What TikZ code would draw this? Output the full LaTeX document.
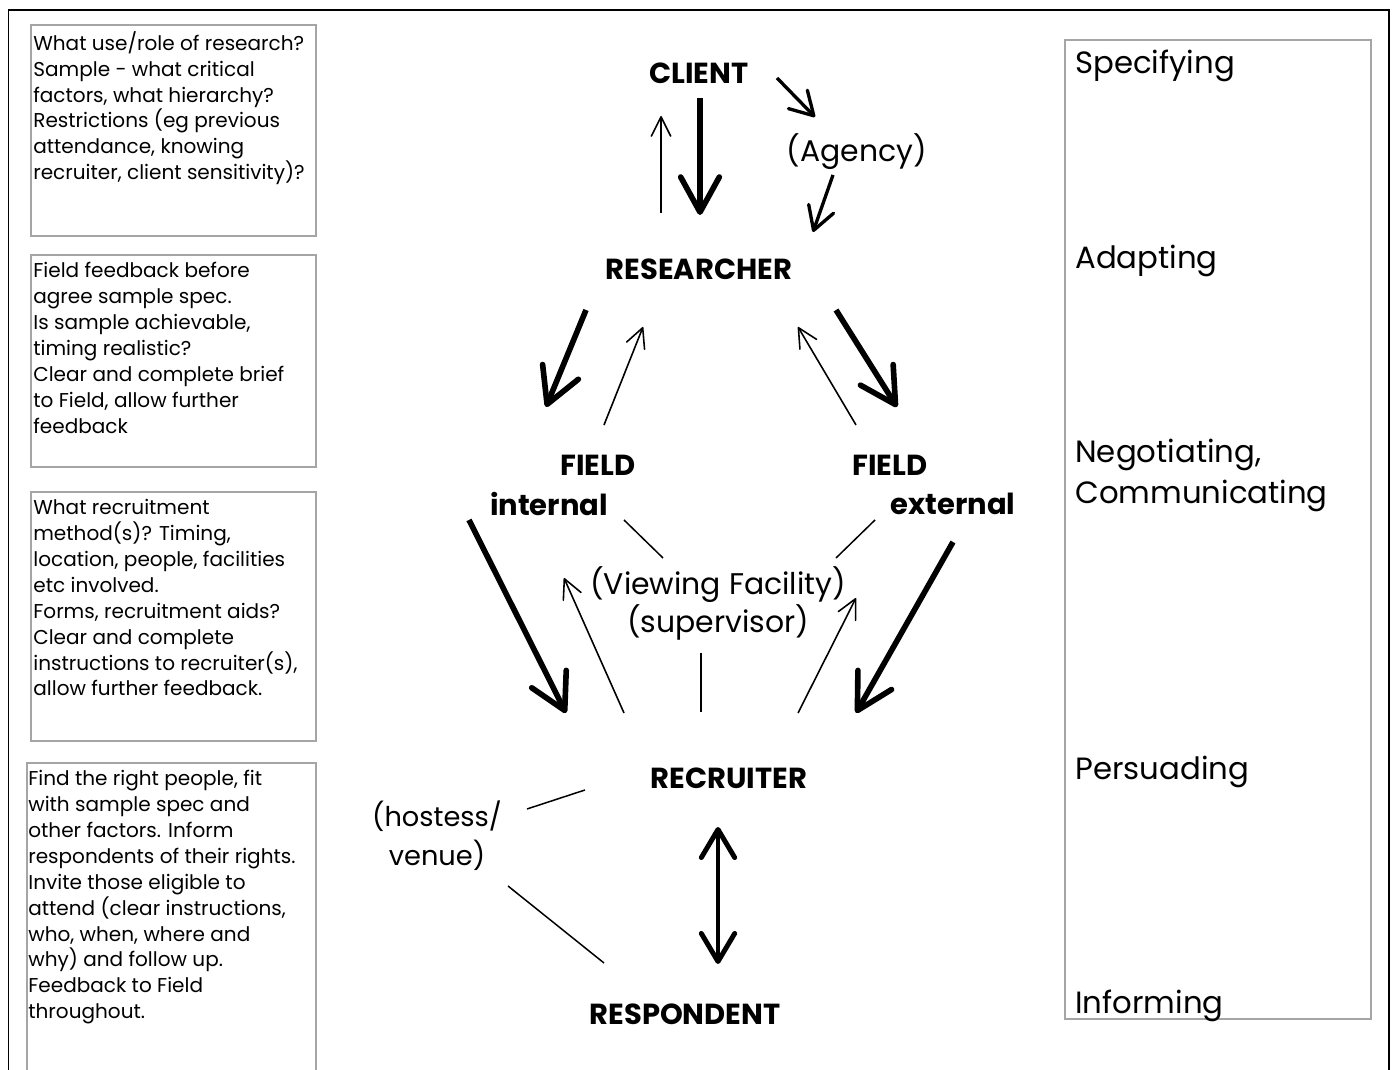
\documentclass[tikz,border=0pt]{standalone}
\usepackage{fontspec}
\setmainfont{Poppins}
\usetikzlibrary{arrows.meta}
\definecolor{CINK}{RGB}{0,0,0}
\definecolor{CBOX}{RGB}{165,165,165}

\begin{document}
\begin{tikzpicture}[
  actor/.style={font=\fontsize{16.5}{19}\selectfont\bfseries,inner sep=0pt},
  aside/.style={font=\fontsize{17}{21.6}\selectfont,inner sep=0pt,align=center},
  role/.style={font=\fontsize{17.5}{22.7}\selectfont,inner sep=0pt,anchor=base west,align=left},
  notes/.style={font=\fontsize{11.4}{14.74}\selectfont,inner sep=0pt,anchor=north west,align=left},
  bigarr/.style={CINK,line width=3.2pt,-{Straight Barb[length=20pt,width=22pt,round]}},
  midarr/.style={CINK,line width=1.9pt,-{Straight Barb[length=13pt,width=15pt,round]}},
  thinarr/.style={CINK,line width=0.9pt,-{Straight Barb[length=11pt,width=11pt,round]}},
  duoarr/.style={CINK,line width=2.8pt,{Straight Barb[length=16pt,width=19pt,round]}-{Straight Barb[length=16pt,width=19pt,round]}},
  link/.style={CINK,line width=0.85pt}
]
  \useasboundingbox (0.0000cm,0.0000cm) rectangle (27.8600cm,21.4000cm);
  % outer frame, open at the bottom
  \draw[CINK,line width=1.1pt] (0.1700cm,0.0000cm) -- (0.1700cm,21.2000cm) -- (27.7800cm,21.2000cm) -- (27.7800cm,0.0000cm);
  % note boxes on the left
  \draw[CBOX,line width=0.6pt] (0.6200cm,16.6800cm) rectangle (6.3200cm,20.9000cm);
  \draw[CBOX,line width=0.6pt] (0.6200cm,12.0600cm) rectangle (6.3200cm,16.3000cm);
  \draw[CBOX,line width=0.6pt] (0.6200cm,6.5800cm) rectangle (6.3200cm,11.5600cm);
  \draw[CBOX,line width=0.6pt] (0.5400cm,0.0000cm) -- (0.5400cm,6.1400cm) -- (6.3200cm,6.1400cm) -- (6.3200cm,0.0000cm);
  \node[notes] (note1) at (0.6600cm,20.7800cm) {What use/role of research?\\Sample - what critical\\factors, what hierarchy?\\Restrictions (eg previous\\attendance, knowing\\recruiter, client sensitivity)?};
  \node[notes] (note2) at (0.6600cm,16.1600cm) {Field feedback before\\agree sample spec.\\Is sample achievable,\\timing realistic?\\Clear and complete brief\\to Field, allow further\\feedback};
  \node[notes] (note3) at (0.6600cm,11.4200cm) {What recruitment\\method(s)? Timing,\\location, people, facilities\\etc involved.\\Forms, recruitment aids?\\Clear and complete\\instructions to recruiter(s),\\allow further feedback.};
  \node[notes] (note4) at (0.5600cm,6.0000cm) {Find the right people, fit\\with  sample spec and\\other factors. Inform\\respondents of their rights.\\Invite those eligible to\\attend (clear instructions,\\who, when,  where and\\why) and follow up.\\Feedback to Field\\throughout.};
  % roles box on the right
  \draw[CBOX,line width=1.1pt] (21.3000cm,1.0200cm) rectangle (27.4200cm,20.6000cm);
  \node[role] (specify) at (21.5000cm,19.9200cm) {Specifying};
  \node[role] (adapt) at (21.5000cm,16.0200cm) {Adapting};
  \node[role] (negot) at (21.5000cm,12.1400cm) {Negotiating,};
  \node[role] (commun) at (21.5000cm,11.3200cm) {Communicating};
  \node[role] (persuade) at (21.5000cm,5.8000cm) {Persuading};
  \node[role] (inform) at (21.5000cm,1.1200cm) {Informing};
  % actors
  \node[actor] (client) at (13.9800cm,19.9400cm) {CLIENT};
  \node[actor] (researcher) at (13.9800cm,16.0200cm) {RESEARCHER};
  \node[actor] (fldint) at (11.9600cm,12.1000cm) {FIELD};
  \node[actor] (fldintx) at (10.9800cm,11.3200cm) {internal};
  \node[actor] (fldext) at (17.8000cm,12.1000cm) {FIELD};
  \node[actor] (fldextx) at (19.0600cm,11.3200cm) {external};
  \node[actor] (recruiter) at (14.5800cm,5.8400cm) {RECRUITER};
  \node[actor] (respondent) at (13.7000cm,1.1200cm) {RESPONDENT};
  \node[aside] (agency) at (17.1400cm,18.3600cm) {(Agency)};
  \node[aside] (viewing) at (14.3600cm,9.3400cm) {(Viewing Facility)\\(supervisor)};
  \node[aside,font=\fontsize{15.5}{22}\selectfont] (hostess) at (8.7400cm,4.6800cm) {(hostess/\\venue)};
  % arrow ends
  \coordinate (cr-a) at (14.0000cm,19.4400cm);
  \coordinate (cr-b) at (14.0000cm,17.1000cm);
  \coordinate (rc-a) at (13.2200cm,17.1400cm);
  \coordinate (rc-b) at (13.2200cm,19.0800cm);
  \coordinate (ca-a) at (15.5400cm,19.8400cm);
  \coordinate (ca-b) at (16.3000cm,19.0600cm);
  \coordinate (ar-a) at (16.6600cm,17.9000cm);
  \coordinate (ar-b) at (16.2600cm,16.7600cm);
  \coordinate (ri-a) at (11.7200cm,15.2000cm);
  \coordinate (ri-b) at (10.9200cm,13.2600cm);
  \coordinate (ir-a) at (12.0800cm,12.9000cm);
  \coordinate (ir-b) at (12.8600cm,14.8600cm);
  \coordinate (er-a) at (17.1200cm,12.9000cm);
  \coordinate (er-b) at (15.9600cm,14.8600cm);
  \coordinate (re-a) at (16.7200cm,15.2000cm);
  \coordinate (re-b) at (17.9400cm,13.2600cm);
  \coordinate (ik-a) at (9.3800cm,11.0000cm);
  \coordinate (ik-b) at (11.3200cm,7.1400cm);
  \coordinate (ki-a) at (12.4800cm,7.1400cm);
  \coordinate (ki-b) at (11.2800cm,9.8400cm);
  \coordinate (iv-a) at (12.4800cm,11.0000cm);
  \coordinate (iv-b) at (13.2600cm,10.2400cm);
  \coordinate (ev-a) at (17.5000cm,11.0000cm);
  \coordinate (ev-b) at (16.7200cm,10.2400cm);
  \coordinate (ke-a) at (15.9600cm,7.1400cm);
  \coordinate (ke-b) at (17.1200cm,9.4400cm);
  \coordinate (ek-a) at (19.0600cm,10.5600cm);
  \coordinate (ek-b) at (17.1200cm,7.1400cm);
  \coordinate (vk-a) at (14.0200cm,8.3400cm);
  \coordinate (vk-b) at (14.0200cm,7.1600cm);
  \coordinate (hk-a) at (10.5400cm,5.2200cm);
  \coordinate (hk-b) at (11.7000cm,5.6000cm);
  \coordinate (hp-a) at (10.1600cm,3.6800cm);
  \coordinate (hp-b) at (12.0800cm,2.1400cm);
  \coordinate (kp-a) at (14.3600cm,4.8600cm);
  \coordinate (kp-b) at (14.3600cm,2.1200cm);
  % arrows
  \draw[bigarr] (cr-a) -- (cr-b);
  \draw[thinarr] (rc-a) -- (rc-b);
  \draw[midarr] (ca-a) -- (ca-b);
  \draw[midarr] (ar-a) -- (ar-b);
  \draw[bigarr] (ri-a) -- (ri-b);
  \draw[thinarr] (ir-a) -- (ir-b);
  \draw[thinarr] (er-a) -- (er-b);
  \draw[bigarr] (re-a) -- (re-b);
  \draw[bigarr] (ik-a) -- (ik-b);
  \draw[thinarr] (ki-a) -- (ki-b);
  \draw[link] (iv-a) -- (iv-b);
  \draw[link] (ev-a) -- (ev-b);
  \draw[thinarr] (ke-a) -- (ke-b);
  \draw[bigarr] (ek-a) -- (ek-b);
  \draw[link] (vk-a) -- (vk-b);
  \draw[link] (hk-a) -- (hk-b);
  \draw[link] (hp-a) -- (hp-b);
  \draw[duoarr] (kp-a) -- (kp-b);
\end{tikzpicture}
\end{document}
